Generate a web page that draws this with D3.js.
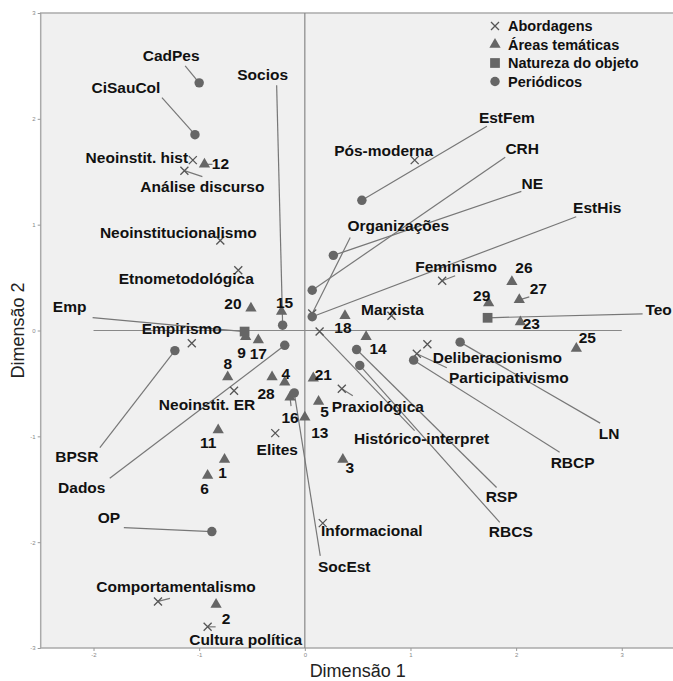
<!DOCTYPE html>
<html lang="pt">
<head>
  <meta charset="UTF-8">
  <title>Dimensão 1 x Dimensão 2</title>
  <script src="https://d3js.org/d3.v7.min.js"></script>
  <style>
    body {
      margin: 0;
      background: #fff;
      font-family: "Liberation Sans", Arial, sans-serif;
    }
    .lbl {
      font-weight: bold;
      font-size: 15.5px;
      fill: #111;
    }
    .tick text {
      font-size: 6px;
      fill: #888;
    }
  </style>
</head>
<body>

<svg width="673" height="681"></svg>

<script>
  // coordenadas: [rótulo, dimensão 1, dimensão 2]
  const abordagens = [
    ["Pós-moderna", 1.04, 1.61],
    ["Neoinstit. hist", -1.06, 1.61],
    ["Análise discurso", -1.14, 1.51],
    ["Neoinstitucionalismo", -0.80, 0.85],
    ["Etnometodológica", -0.63, 0.57],
    ["Organizações", 0.07, 0.16],
    ["Feminismo", 1.30, 0.47],
    ["Marxista", 0.82, 0.14],
    ["Empirismo", -1.07, -0.12],
    ["Deliberacionismo", 1.16, -0.13],
    ["Participativismo", 1.06, -0.22],
    ["Histórico-interpret", 0.14, -0.01],
    ["Praxiológica", 0.35, -0.55],
    ["Neoinstit. ER", -0.67, -0.57],
    ["Elites", -0.28, -0.97],
    ["Informacional", 0.17, -1.82],
    ["Comportamentalismo", -1.39, -2.56],
    ["Cultura política", -0.92, -2.80]
  ];

  const areas = [
    ["1", -0.76, -1.22], ["2", -0.84, -2.59], ["3", 0.36, -1.22],
    ["4", -0.19, -0.49], ["5", 0.13, -0.67], ["6", -0.92, -1.37],
    ["8", -0.73, -0.44], ["9", -0.56, -0.06], ["11", -0.82, -0.94],
    ["12", -0.95, 1.57], ["13", 0.00, -0.82], ["14", 0.58, -0.06],
    ["15", -0.22, 0.18], ["16", -0.14, -0.63], ["17", -0.44, -0.09],
    ["18", 0.38, 0.14], ["20", -0.51, 0.21], ["21", 0.08, -0.45],
    ["23", 2.04, 0.08], ["25", 2.57, -0.17], ["26", 1.96, 0.46],
    ["27", 2.03, 0.29], ["28", -0.31, -0.44], ["29", 1.74, 0.26]
  ];

  const natureza = [
    ["Emp", -0.57, -0.01],
    ["Teo", 1.73, 0.12]
  ];

  const periodicos = [
    ["CadPes", -1.00, 2.34],
    ["CiSauCol", -1.04, 1.85],
    ["Socios", -0.21, 0.05],
    ["EstFem", 0.54, 1.23],
    ["CRH", 0.07, 0.38],
    ["NE", 0.27, 0.71],
    ["EstHis", 0.07, 0.13],
    ["LN", 1.47, -0.11],
    ["RBCP", 1.03, -0.28],
    ["RSP", 0.49, -0.18],
    ["RBCS", 0.52, -0.33],
    ["SocEst", -0.10, -0.59],
    ["OP", -0.88, -1.90],
    ["BPSR", -1.23, -0.19],
    ["Dados", -0.19, -0.14]
  ];

  const legendItems = ["Abordagens", "Áreas temáticas", "Natureza do objeto", "Periódicos"];
  const ticks = [-3, -2, -1, 0, 1, 2, 3];

  // posição dos rótulos (deslocamento em px) e fim da linha guia, se houver
  const place = {
    "Pós-moderna": [-31, -10], "Neoinstit. hist": [-56, -3], "Análise discurso": [18, 16, 18, 6],
    "Neoinstitucionalismo": [-42, -8], "Etnometodológica": [-52, 8], "Organizações": [86, -88, 38, -76],
    "Feminismo": [14, -14, 13, -5], "Marxista": [1, -6], "Empirismo": [-10, -15],
    "Deliberacionismo": [70, 13], "Participativismo": [92, 24, 30, 14], "Histórico-interpret": [102, 107, 95, 99],
    "Praxiológica": [36, 18, 11, 7], "Neoinstit. ER": [-27, 14], "Elites": [2, 16], "Informacional": [49, 7],
    "Comportamentalismo": [18, -15, 12, -3], "Cultura política": [38, 13, 8, 0],
    "1": [-2, 13], "2": [10, 14], "3": [7, 8], "4": [1, -9], "5": [6, 10], "6": [-3, 13],
    "8": [0, -14], "9": [-4, 16], "11": [-10, 13], "12": [16, -1, 8, 0], "13": [15, 15],
    "14": [12, 12], "15": [3, -9], "16": [0, 20, 1, 9], "17": [0, 13], "18": [-2, 12],
    "20": [-18, -5], "21": [10, -4, 4, -1], "23": [11, 1], "25": [11, -11], "26": [12, -14],
    "27": [19, -11, 10, -3], "28": [-6, 16], "29": [-7, -7],
    "Emp": [-175, -25, -152, -14], "Teo": [171, -8, 155, -4],
    "CadPes": [-28, -27, -14, -17], "CiSauCol": [-69, -47, -33, -37], "Socios": [-20, -251, -6, -240],
    "EstFem": [145, -83, 125, -74], "CRH": [210, -142, 193, -133], "NE": [199, -72, 188, -64],
    "EstHis": [285, -109, 264, -100], "LN": [149, 91, 140, 81], "RBCP": [159, 102, 146, 92],
    "RSP": [145, 147, 140, 138], "RBCS": [151, 166, 140, 157], "SocEst": [50, 174, 26, 163],
    "OP": [-103, -14, -88, -4], "BPSR": [-98, 106, -75, 97], "Dados": [-203, 142, -175, 133]
  };

  const svg = d3.select("svg");
  const markColor = "#666";

  const x = d3.scaleLinear().domain([-2.5, 3.5]).range([40.7, 674.6]);
  const y = d3.scaleLinear().domain([-3, 3]).range([648, 13]);

  // área do gráfico
  svg.append("rect")
    .attr("x", x(-2.5)).attr("y", y(3))
    .attr("width", x(3.5) - x(-2.5)).attr("height", y(-3) - y(3))
    .attr("fill", "#f0f0f0")
    .attr("stroke", "#aaa")
    .attr("stroke-width", 1.5);

  const xAxis = svg.append("g")
    .attr("transform", `translate(0,${y(-3)})`)
    .call(d3.axisBottom(x).tickValues(ticks.slice(1)).tickFormat(d => d).tickSize(3).tickPadding(2));
  const yAxis = svg.append("g")
    .attr("transform", `translate(${x(-2.5)},0)`)
    .call(d3.axisLeft(y).tickValues(ticks).tickFormat(d => d).tickSize(3).tickPadding(2));
  [xAxis, yAxis].forEach(g => {
    g.select(".domain").remove();
    g.selectAll("line").attr("stroke", "#999");
  });

  svg.append("text")
    .attr("x", (x(-2.5) + x(3.5)) / 2).attr("y", 677)
    .attr("text-anchor", "middle")
    .attr("font-size", 18).attr("fill", "#222")
    .text("Dimensão 1");
  svg.append("text")
    .attr("transform", `translate(24,${(y(3) + y(-3)) / 2}) rotate(-90)`)
    .attr("text-anchor", "middle")
    .attr("font-size", 18).attr("fill", "#222")
    .text("Dimensão 2");

  // linhas de referência
  svg.append("line")
    .attr("x1", x(0)).attr("x2", x(0)).attr("y1", y(3)).attr("y2", y(-3))
    .attr("stroke", "#888").attr("stroke-width", 1.2);
  svg.append("line")
    .attr("x1", x(-2)).attr("x2", x(3)).attr("y1", y(0)).attr("y2", y(0))
    .attr("stroke", "#888").attr("stroke-width", 1.2);

  const all = [].concat(
    abordagens.map(d => ({ name: d[0], v1: d[1], v2: d[2], kind: 0 })),
    areas.map(d => ({ name: d[0], v1: d[1], v2: d[2], kind: 1 })),
    natureza.map(d => ({ name: d[0], v1: d[1], v2: d[2], kind: 2 })),
    periodicos.map(d => ({ name: d[0], v1: d[1], v2: d[2], kind: 3 }))
  );

  // linhas guia
  svg.append("g").selectAll("line")
    .data(all.filter(d => place[d.name] && place[d.name].length > 2))
    .join("line")
    .attr("x1", d => x(d.v1)).attr("y1", d => y(d.v2))
    .attr("x2", d => x(d.v1) + place[d.name][2])
    .attr("y2", d => y(d.v2) + place[d.name][3])
    .attr("stroke", "#777").attr("stroke-width", 1.2);

  function drawMark(g, kind) {
    if (kind === 0) {
      g.append("path").attr("d", "M-4,-4L4,4M-4,4L4,-4")
        .attr("stroke", "#555").attr("stroke-width", 1.3).attr("fill", "none");
    } else {
      const sym = [null, d3.symbolTriangle, d3.symbolSquare, d3.symbolCircle][kind];
      const size = [0, 55, 95, 70][kind];
      g.append("path").attr("d", d3.symbol(sym, size)()).attr("fill", markColor);
    }
  }

  svg.append("g").selectAll("g")
    .data(all)
    .join("g")
    .attr("transform", d => `translate(${x(d.v1)},${y(d.v2)})`)
    .each(function(d) { drawMark(d3.select(this), d.kind); });

  svg.append("g").selectAll("text")
    .data(all)
    .join("text")
    .attr("class", "lbl")
    .attr("x", d => x(d.v1) + place[d.name][0])
    .attr("y", d => y(d.v2) + place[d.name][1])
    .attr("text-anchor", "middle")
    .attr("dominant-baseline", "central")
    .text(d => d.name);

  // legenda
  const legend = svg.append("g").attr("transform", "translate(495,26)");
  legendItems.forEach((t, i) => {
    const g = legend.append("g").attr("transform", `translate(0,${i * 18.5})`);
    drawMark(g, i);
    g.append("text").attr("class", "lbl")
      .attr("x", 13).attr("dominant-baseline", "central")
      .style("font-size", "14.5px")
      .text(t);
  });
</script>

</body>
</html>
